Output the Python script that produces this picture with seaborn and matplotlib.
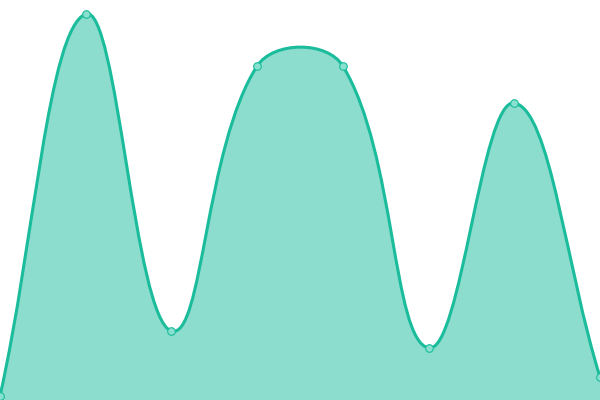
import numpy as np
import pandas as pd
import seaborn as sns
import matplotlib.pyplot as plt
from matplotlib.path import Path
from matplotlib.patches import PathPatch

# Data (value scale 0..400)
labels = ["A", "B", "C", "D", "E", "F", "G", "H"]
values = [4, 386, 69, 334, 334, 52, 297, 23]

LINE = "#1abc9c"
FILL = (26 / 255, 188 / 255, 156 / 255, 0.5)
TENSION = 0.4

W, H = 600, 400

sns.set_theme(style="white")
fig = plt.figure(figsize=(6, 4), dpi=100)
ax = fig.add_axes([0, 0, 1, 1])

df = pd.DataFrame({"idx": np.arange(len(values)), "value": values})
ax.set_xlim(0, len(values) - 1)
ax.set_ylim(0, H)

# chart.js-like spline: build control points in pixel space
sx = W / (len(values) - 1)
px = df["idx"].to_numpy() * sx
py = df["value"].to_numpy().astype(float)
pts = np.column_stack([px, py])
n = len(pts)
ctrl_prev = pts.copy()
ctrl_next = pts.copy()
for i in range(n):
    prev = pts[max(i - 1, 0)]
    nxt = pts[min(i + 1, n - 1)]
    d01 = np.hypot(*(pts[i] - prev))
    d12 = np.hypot(*(nxt - pts[i]))
    tot = d01 + d12
    fa = TENSION * d01 / tot if tot else 0
    fb = TENSION * d12 / tot if tot else 0
    ctrl_prev[i] = pts[i] - fa * (nxt - prev)
    ctrl_next[i] = pts[i] + fb * (nxt - prev)
# keep control points inside the chart area
for c in (ctrl_prev, ctrl_next):
    c[:, 0] = np.clip(c[:, 0], 0, W)
    c[:, 1] = np.clip(c[:, 1], 0, H)

verts = [tuple(pts[0])]
codes = [Path.MOVETO]
for i in range(n - 1):
    verts += [tuple(ctrl_next[i]), tuple(ctrl_prev[i + 1]), tuple(pts[i + 1])]
    codes += [Path.CURVE4] * 3
# back to data units
verts = [(x / sx, y) for x, y in verts]

line_path = Path(verts, codes)
fill_path = Path(verts + [(n - 1, 0), (0, 0), verts[0]],
                 codes + [Path.LINETO, Path.LINETO, Path.CLOSEPOLY])

ax.add_patch(PathPatch(fill_path, facecolor=FILL, edgecolor="none", zorder=1))
ax.add_patch(PathPatch(line_path, facecolor="none", edgecolor=LINE, lw=2.2, zorder=2))

sns.scatterplot(data=df, x="idx", y="value", ax=ax, s=30,
                color=(137 / 255, 224 / 255, 207 / 255), edgecolor=LINE,
                linewidth=0.8, zorder=3, legend=False)

ax.set_axis_off()
fig.savefig("out.png", dpi=100)
